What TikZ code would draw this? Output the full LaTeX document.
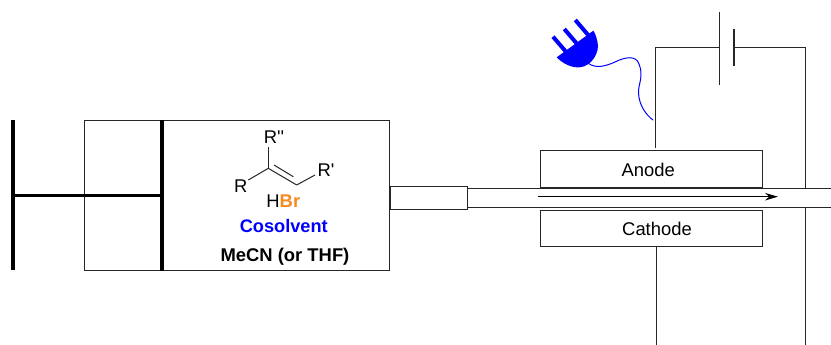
\documentclass[tikz,border=0pt]{standalone}
\usepackage{fontspec}
\setmainfont{Liberation Sans}
\newfontfamily\rawfont{Liberation Sans}
\usetikzlibrary{arrows.meta}
\definecolor{brorange}{HTML}{F58A1F}
\tikzset{
  px/.style={x=1pt,y=-1pt},
  line/.style={line width=1pt,black!85},
  heavy/.style={line width=3.8pt,black},
  boxnode/.style={draw,line width=1pt,black!85,text=black,inner sep=0pt,font=\fontsize{18.4}{20}\selectfont},
  label/.style={inner sep=0.5pt,font=\fontsize{18.4}{20}\selectfont},
  bond/.style={line width=1pt,black!85},
  wire/.style={line width=1pt,blue,line cap=round},
}
\begin{document}
\begin{tikzpicture}[px]
\useasboundingbox (0,0) rectangle (831,345);
\fill[white] (0,0) rectangle (831,345);
% syringe
\node[boxnode,minimum width=304.5pt,minimum height=149pt] (barrel) at (236.75,195.5) {};
\coordinate (plTop) at (162,120);
\coordinate (plBot) at (162,271);
\coordinate (plMid) at (162,195.5);
\coordinate (hdTop) at (13,120);
\coordinate (hdBot) at (13,270);
\coordinate (hdMid) at (13,195.5);
\draw[heavy] (plTop) -- (plBot);
\draw[heavy] (hdTop) -- (hdBot);
\draw[heavy] (hdMid) -- (plMid);
% molecule
\node[label] (Rpp) at (274,137.5) {\rawfont R''};
\node[label] (Ra) at (240.7,186) {R};
\node[label] (Rp) at (326,170) {\rawfont R'};
\coordinate (ca) at (268.3,168.3);
\coordinate (cb) at (296.7,185);
\coordinate (ia) at (274,165);
\coordinate (ib) at (293.3,176.7);
\draw[bond] (268.3,147) coordinate (rppend) -- (ca);
\draw[bond] (248.3,180) coordinate (raend) -- (ca);
\draw[bond] (ca) -- (cb);
\draw[bond] (ia) -- (ib);
\draw[bond] (cb) -- (315,175) coordinate (rpend);
\node[label] (hbr) at (283.3,201) {H\textcolor{brorange}{\textbf{Br}}};
\node[label,text=blue,font=\fontsize{18.2}{20}\selectfont\bfseries] (cosolv) at (283.8,226) {Cosolvent};
\node[label,font=\fontsize{18.4}{20}\selectfont\bfseries] (mecn) at (285,256.5) {MeCN (or THF)};
% circuit
\coordinate (anodeTop) at (655.7,148);
\coordinate (tl) at (655.7,47.7);
\coordinate (batL) at (719.7,47.7);
\coordinate (batLa) at (719.7,11.7);
\coordinate (batLb) at (719.7,85);
\coordinate (batS) at (734,47.3);
\coordinate (batSa) at (734,29);
\coordinate (batSb) at (734,65.7);
\coordinate (tr) at (805.7,47.3);
\coordinate (brt) at (805.7,345);
\coordinate (cathEnd) at (656.7,345);
\draw[line,line join=miter] (anodeTop) -- (tl) -- (batL);
\draw[line] (batLa) -- (batLb);
\draw[line width=1.4pt,black!85] (batSa) -- (batSb);
\draw[line,line join=miter] (batS) -- (tr) -- (brt);
% tube
\coordinate (tubeTopEnd) at (831,188.3);
\coordinate (tubeBotEnd) at (831,207.7);
\coordinate (tubeTopStart) at (467.3,188.3);
\coordinate (tubeBotStart) at (467.3,207.7);
\fill[white] (tubeTopStart) rectangle (tubeBotEnd);
\draw[line] (tubeTopStart) -- (tubeTopEnd);
\draw[line] (tubeBotStart) -- (tubeBotEnd);
\node[boxnode,fill=white,minimum width=76.6pt,minimum height=22.6pt] (needle) at (429,198) {};
% electrodes
\node[boxnode,fill=white,minimum width=222pt,minimum height=36.6pt] (anode) at (651.7,169) {};
\node[boxnode,fill=white,minimum width=222pt,minimum height=35.7pt] (cathode) at (651.7,228.2) {};
\node[label] (anodetext) at (648.3,169.5) {Anode};
\node[label] (cathodetext) at (657,228.5) {Cathode};
\coordinate (flowA) at (537.7,196.7);
\coordinate (flowB) at (778,196.7);
\draw[line,black,-{Stealth[length=13pt,width=7.5pt]}] (flowA) -- (flowB);
\draw[line] (cathode.south -| cathEnd) -- (cathEnd);
% plug
\fill[blue] (556.7,57.3) .. controls (563,64) and (572,68) .. (580,67.3)
  .. controls (592,66) and (600,52) .. (597.5,42)
  .. controls (596.5,37) and (595,33) .. (593.3,30.7) -- cycle;
\draw[line width=4pt,blue] (553,36.7) -- (567,53);
\draw[line width=4pt,blue] (564.3,29) -- (578,45);
\draw[line width=4pt,blue] (575.3,20) -- (589,36);
\coordinate (wireA) at (588.3,63.3);
\coordinate (wireB) at (653,120);
\draw[wire] (wireA) .. controls (596,69) and (606,66) .. (615,62)
  .. controls (625,57) and (636,55) .. (639,64)
  .. controls (644,76) and (638,85) .. (638.5,93)
  .. controls (639,105) and (646,115) .. (wireB);
\end{tikzpicture}
\end{document}
